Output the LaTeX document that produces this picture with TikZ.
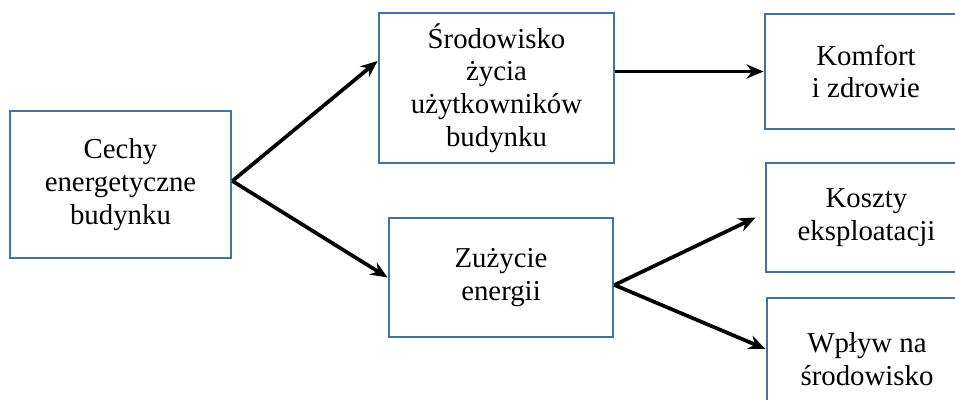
\documentclass[tikz,border=0pt]{standalone}
\usepackage{fontspec}
\setmainfont{Liberation Serif}
\usetikzlibrary{arrows.meta}
\definecolor{ramka}{RGB}{68,114,160}

\begin{document}
\begin{tikzpicture}[
	blok/.style={draw=ramka, line width=1.6pt, align=center, inner sep=0pt,
		font=\fontsize{16.4}{18.6}\selectfont},
	strz/.style={-{Stealth[length=0.34cm,width=0.28cm]}, line width=2.1pt}]
  \clip (0,0) rectangle (19.1,8);

	\node[blok, minimum width=4.42cm, minimum height=2.94cm] (cechy) at (2.41,4.31) {Cechy\\energetyczne\\budynku};
	\node[blok, minimum width=4.70cm, minimum height=3.00cm] (srod) at (9.93,6.24) {Środowisko\\życia\\użytkowników\\budynku};
	\node[blok, minimum width=4.48cm, minimum height=2.38cm] (zuz) at (10.02,2.45) {Zużycie\\energii};

	\node[blok, minimum width=4.04cm, minimum height=2.30cm] (komf) at (17.32,6.57) {Komfort\\i zdrowie};
	\node[blok, minimum width=4.02cm, minimum height=2.18cm] (koszt) at (17.33,3.65) {Koszty\\eksploatacji};
	\node[blok, minimum width=4.00cm, minimum height=2.44cm] (wplyw) at (17.34,0.82) {Wpływ na\\środowisko};

	\draw[strz] ([yshift=0.07cm]cechy.east) -- ([yshift=0.54cm]srod.west);
	\draw[strz] ([yshift=0.07cm]cechy.east) -- (zuz.west);
	\draw[strz] (srod.east |- komf.west) -- (komf.west);
	\draw[strz] ([yshift=-0.15cm]zuz.east) -- ([xshift=-0.18cm]koszt.west);
	\draw[strz] ([yshift=-0.15cm]zuz.east) -- ([yshift=0.2cm]wplyw.west);
\end{tikzpicture}
\end{document}
